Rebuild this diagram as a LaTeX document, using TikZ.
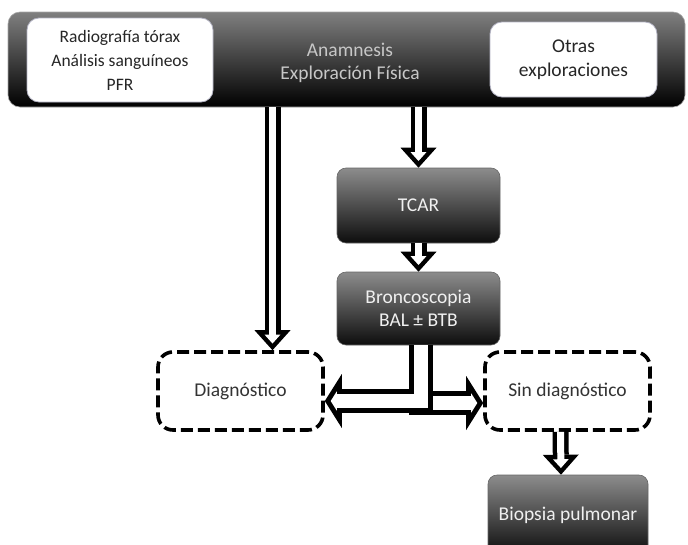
\documentclass[tikz,border=0pt]{standalone}
\usepackage{fontspec}
\setmainfont{Carlito}
\usetikzlibrary{arrows.meta}

\newcommand\boxfont{\fontsize{19.5}{23.5}\selectfont}
\newcommand\smallboxfont{\fontsize{17.5}{24}\selectfont}

\tikzset{
  bar/.style={rounded corners=12pt, top color=black!50, bottom color=black, draw=black!35, line width=0.6pt},
  whitebox/.style={rounded corners=12pt, fill=white, draw=blue!20!black!30, line width=0.8pt, text=black!85, align=center, font=\boxfont},
  darkbox/.style={rounded corners=9pt, top color=black!45, bottom color=black!95, draw=black!60, line width=0.6pt, text=black!6, align=center, font=\boxfont},
  dashbox/.style={rounded corners=15pt, fill=white, draw=black, line width=3.6pt, dash pattern=on 12pt off 5pt, minimum width=165pt, minimum height=78pt, text=black!80, align=center, font=\boxfont},
  hollow/.style={draw=white, line width=7pt, shorten >=6.7pt,
    -{Triangle[width=15.8pt, length=8.8pt, line width=0pt]},
    preaction={draw=black, line width=16pt, shorten >=0pt,
      -{Triangle[width=36pt, length=20pt, line width=0pt]}}},
  hollow bent/.style={draw=white, line width=14pt, shorten >=5.9pt,
    -{Triangle[width=19.4pt, length=6.1pt, line width=0pt]},
    preaction={draw=black, line width=24pt, shorten >=0pt,
      -{Triangle[width=54pt, length=17pt, line width=0pt]}}}
}

\begin{document}
\begin{tikzpicture}[x=1pt, y=-1pt]

  \clip (0,0) rectangle (688,544);

  % Top bar
  \node[bar, minimum width=677pt, minimum height=95pt] (bar) at (346.5,59.5) {};
  \node[whitebox, font=\smallboxfont, minimum width=186pt, minimum height=84pt] (rx) at (120,60)
    {Radiografía tórax\\Análisis sanguíneos\\PFR};
  \node[font=\boxfont, text=black!22, align=center] (anam) at (350,63)
    {Anamnesis\\Exploración Física};
  \node[whitebox, minimum width=167pt, minimum height=75pt] (otras) at (573.5,59.5)
    {Otras\\exploraciones};

  % Middle column
  \node[darkbox, minimum width=163pt, minimum height=75pt] (tcar) at (418.5,205.5) {TCAR};
  \node[darkbox, minimum width=163pt, minimum height=73pt] (bronco) at (418.5,308.5)
    {Broncoscopia\\BAL ± BTB};

  % Results
  \node[dashbox] (diag) at (240.5,391) {Diagnóstico};
  \node[dashbox] (sindiag) at (567.5,391) {Sin diagnóstico};
  \node[darkbox, minimum width=160pt, minimum height=80pt] (biopsia) at (568,515)
    {Biopsia pulmonar};

  % Hollow arrows
  \draw[hollow] ([xshift=32pt]diag.north |- bar.south) -- ([xshift=32pt]diag.north);
  \draw[hollow] (tcar.north |- bar.south) -- (tcar.north);
  \draw[hollow] (tcar.south) -- (bronco.north);
  \draw[hollow] ([xshift=-7pt]sindiag.south) -- ([xshift=-7pt]biopsia.north);

  % Bent arrows out of the bronchoscopy
  \draw[hollow bent] ([xshift=2pt]bronco.south) |- ([yshift=-12pt]sindiag.west);
  \draw[hollow bent] ([xshift=2pt]bronco.south) |- ([yshift=-10pt]diag.east);

\end{tikzpicture}
\end{document}
